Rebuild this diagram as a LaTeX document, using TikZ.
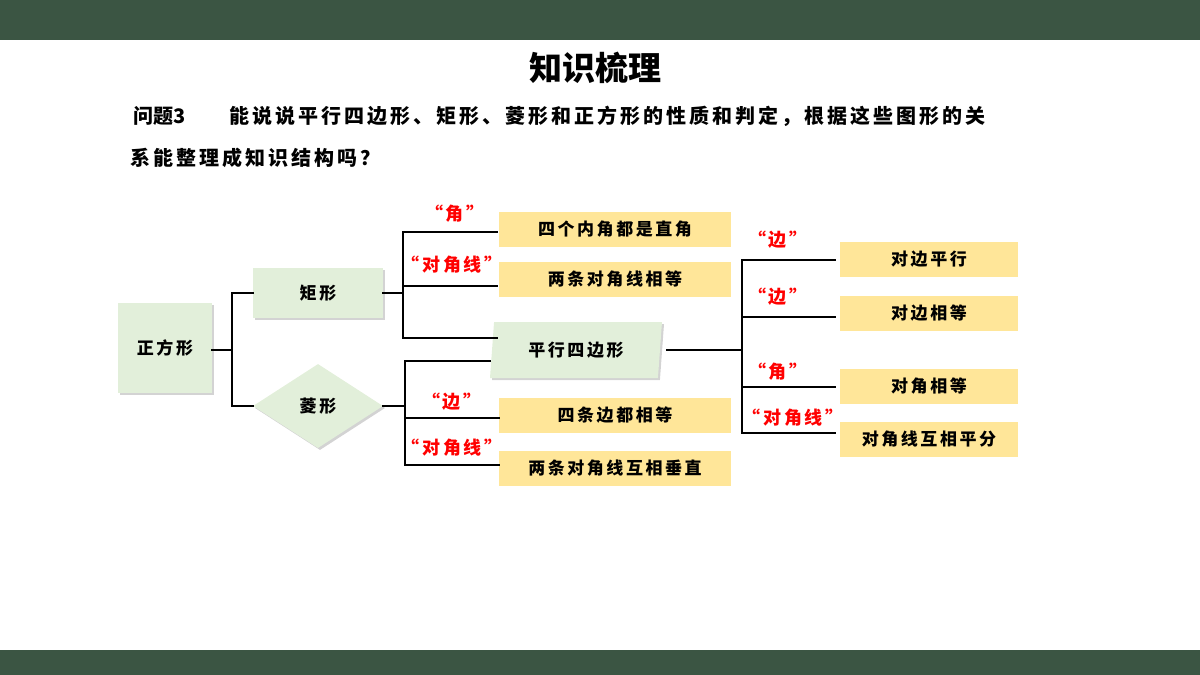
\documentclass[tikz,border=0pt]{standalone}
\usepackage{fontspec}
\setmainfont{Noto Sans CJK SC}
\newfontfamily\spc[LetterSpace=15]{Noto Sans CJK SC}
\usetikzlibrary{positioning}
\usetikzlibrary{shapes.geometric}
\usetikzlibrary{shadows}
\definecolor{bar}{RGB}{59,85,67}
\definecolor{gbox}{RGB}{226,239,218}
\definecolor{ybox}{RGB}{255,230,153}
\definecolor{lab}{RGB}{255,0,0}

\begin{document}
\begin{tikzpicture} [
    x=1pt, y=-1pt,
    g/.style={
        font=\spc\fontsize{17}{20}\selectfont\bfseries,
        fill=gbox, drop shadow={opacity=0.35,shadow xshift=2pt,shadow yshift=-2pt}
    },
    y1/.style={
        font=\spc\fontsize{17}{20}\selectfont\bfseries,
        fill=ybox, minimum width=232, minimum height=35
    },
    y2/.style={
        font=\spc\fontsize{17}{20}\selectfont\bfseries,
        fill=ybox, minimum width=178, minimum height=35
    },
    q/.style={
        font=\spc\fontsize{18}{20}\selectfont\bfseries, text=lab
    },
    br/.style={line width=2.8pt, line cap=rect}
]

\fill [bar] (0,0) rectangle (1200,40);
\fill [bar] (0,650) rectangle (1200,675);
\useasboundingbox (0,0) rectangle (1200,675);

\node [font=\fontsize{33}{36}\selectfont\bfseries] (title) at (595,68) {知识梳理};
\node [font=\fontsize{20}{22}\selectfont\bfseries,anchor=west] (qn) at (130,116) {问题3};
\node [font=\spc\fontsize{20}{22}\selectfont\bfseries,anchor=west] (q1) at (226,116)
    {能说说平行四边形、矩形、菱形和正方形的性质和判定，根据这些图形的关};
\node [font=\spc\fontsize{20}{22}\selectfont\bfseries,anchor=west] (q2) at (127,158)
    {系能整理成知识结构吗？};

% figures
\node [g,minimum width=94,minimum height=90] (zfx) at (165,348) {正方形};
\node [g,minimum width=130,minimum height=50] (jx) at (318,293) {矩形};
\node [g,diamond,aspect=1.55,minimum width=130,minimum height=84,inner sep=0pt] (lx) at (318,406) {菱形};
\node [g,trapezium,trapezium left angle=80,trapezium right angle=100,
    trapezium stretches body,minimum width=172,minimum height=56] (pxs) at (576,350) {平行四边形};

% properties
\node [y1] (j1) at (615,229) {四个内角都是直角};
\node [y1] (j2) at (615,279) {两条对角线相等};
\node [y1] (l1) at (615,415) {四条边都相等};
\node [y1] (l2) at (615,468) {两条对角线互相垂直};
\node [y2] (p1) at (929,259) {对边平行};
\node [y2] (p2) at (929,313) {对边相等};
\node [y2] (p3) at (929,386) {对角相等};
\node [y2] (p4) at (929,439) {对角线互相平分};

% brackets
\draw [br] (zfx.east |- 0,350) -- (232,350);
\draw [br] (jx.west) -| (232,406) -- (lx.west);
\draw [br] (jx.east) -- (403,293);
\draw [br] (497,232) -| (403,338) -- (497,338);
\draw [br] (403,286) -- (497,286);
\draw [br] (lx.east) -- (405,406);
\draw [br] (490,361) -| (405,465) -- (l2.west |- 0,465);
\draw [br] (405,418) -- (l1.west |- 0,418);
\draw [br] (667,350) -- (742,350);
\draw [br] (835,260) -| (742,433) -- (835,433);
\draw [br] (742,317) -- (835,317);
\draw [br] (742,387) -- (835,387);

% labels
\node [q] (a1) at (455,214) {“角”};
\node [q] (a2) at (452,265) {“对角线”};
\node [q] (a3) at (452,402) {“边”};
\node [q] (a4) at (452,448) {“对角线”};
\node [q] (b1) at (778,240) {“边”};
\node [q] (b2) at (778,297) {“边”};
\node [q] (b3) at (778,372) {“角”};
\node [q] (b4) at (793,418) {“对角线”};

\end{tikzpicture}
\end{document}
